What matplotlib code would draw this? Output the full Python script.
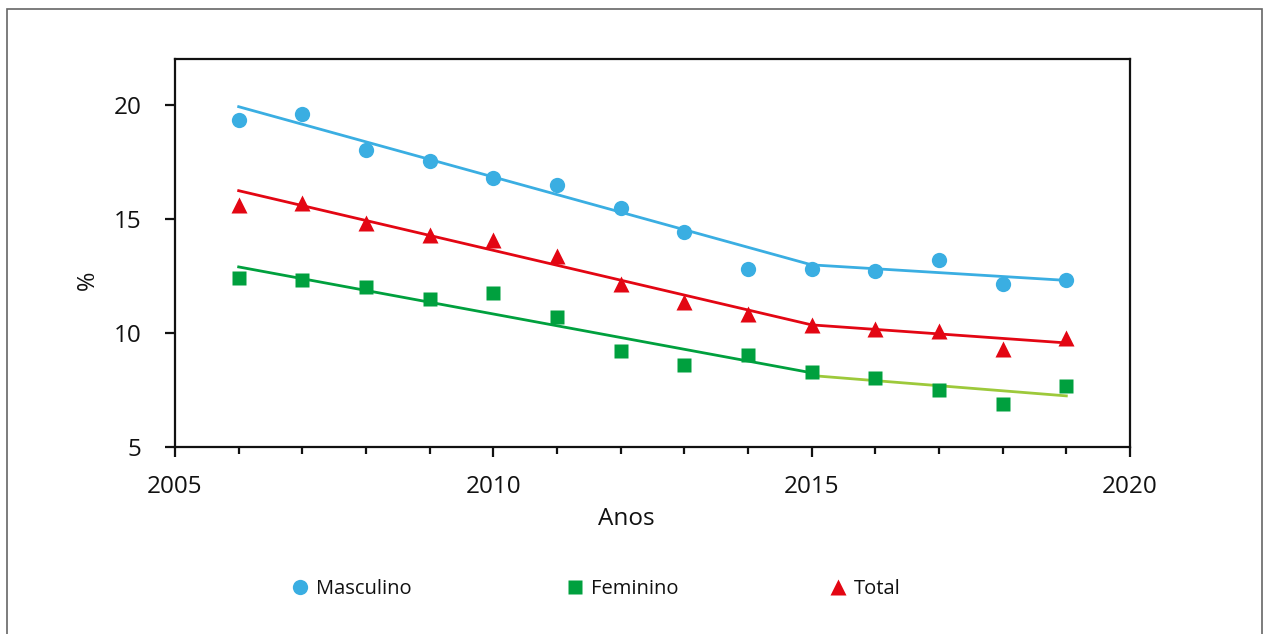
import numpy as np
import matplotlib
matplotlib.use('Agg')
import matplotlib.pyplot as plt
from matplotlib.lines import Line2D
from matplotlib.patches import Rectangle
from matplotlib.ticker import MultipleLocator

plt.rcParams['font.family'] = ['Open Sans', 'DejaVu Sans']

# Annual prevalence (%) by sex
years = [2006, 2007, 2008, 2009, 2010, 2011, 2012, 2013, 2014, 2015, 2016, 2017, 2018, 2019]
masculino = [19.34, 19.6, 18.03, 17.54, 16.8, 16.49, 15.48, 14.43, 12.8, 12.8, 12.72, 13.2, 12.15, 12.3]
feminino = [12.41, 12.32, 12.02, 11.49, 11.75, 10.7, 9.21, 8.6, 9.04, 8.29, 8.03, 7.5, 6.89, 7.68]
total = [15.61, 15.7, 14.82, 14.3, 14.08, 13.38, 12.15, 11.36, 10.83, 10.35, 10.18, 10.09, 9.3, 9.78]

# Joinpoint trend segments (year, fitted %)
trend_years_1 = [2006, 2015]
trend_years_2 = [2015, 2019]
masc_trend_1 = [19.91, 12.98]
masc_trend_2 = [12.98, 12.3]
fem_trend_1 = [12.89, 8.25]
fem_trend_2 = [8.13, 7.24]
tot_trend_1 = [16.23, 10.35]
tot_trend_2 = [10.35, 9.56]

blue = '#3aaee2'
red = '#e30613'
green = '#00a03e'
light_green = '#9dc93b'
ink = '#111111'

W, H = 1267, 634
fig = plt.figure(figsize=(W / 100, H / 100), dpi=100)
ax = fig.add_axes([175 / W, 1 - 447 / H, 955 / W, 388 / H])

# trend lines
ax.plot(trend_years_1, masc_trend_1, color=blue, lw=2)
ax.plot(trend_years_2, masc_trend_2, color=blue, lw=2)
ax.plot(trend_years_1, tot_trend_1, color=red, lw=2)
ax.plot(trend_years_2, tot_trend_2, color=red, lw=2)
ax.plot(trend_years_1, fem_trend_1, color=green, lw=2)
ax.plot(trend_years_2, fem_trend_2, color=light_green, lw=2)

# observed points
ax.plot(years, masculino, 'o', color=blue, ms=11, mec='none')
ax.plot(years, feminino, 's', color=green, ms=10.5, mec='none')
ax.plot(years, total, '^', color=red, ms=12, mec='none')

ax.set_xlim(2005, 2020)
ax.set_ylim(5, 22)
ax.set_xticks([2005, 2010, 2015, 2020])
ax.xaxis.set_minor_locator(MultipleLocator(1))
ax.set_yticks([5, 10, 15, 20])

for s in ax.spines.values():
    s.set_linewidth(1.6)
    s.set_color(ink)

ax.tick_params(axis='both', which='major', direction='out', length=7, width=1.6,
               labelsize=17.5, colors=ink)
ax.tick_params(axis='x', which='minor', direction='out', length=5, width=1.6, colors=ink)
ax.tick_params(axis='x', which='major', pad=13)
ax.tick_params(axis='y', which='major', pad=17)

fig.text(626 / W, 1 - 519 / H, 'Anos', fontsize=17.5, ha='center', va='center', color=ink)
fig.text(88 / W, 1 - 280 / H, '%', fontsize=17, rotation=90, ha='center', va='center', color=ink)

# legend entries placed one by one along the bottom
legend_fs = 14.5
em_px = legend_fs * 100 / 72
entries = [
    (300, Line2D([0], [0], marker='o', color=blue, ls='none', ms=11, mec='none', label='Masculino')),
    (575, Line2D([0], [0], marker='s', color=green, ls='none', ms=10.5, mec='none', label='Feminino')),
    (838, Line2D([0], [0], marker='^', color=red, ls='none', ms=12, mec='none', label='Total')),
]
for mx, h in entries:
    leg = fig.legend(handles=[h], loc='center left',
                     bbox_to_anchor=((mx - 0.5 * em_px) / W, 1 - 589 / H),
                     frameon=False, fontsize=legend_fs, handlelength=1.0,
                     handletextpad=0.3, borderpad=0, borderaxespad=0)
    for t in leg.get_texts():
        t.set_color(ink)

# outer frame
fig.patches.append(Rectangle((7 / W, -0.05), 1255 / W, 1 - 9 / H + 0.05,
                             transform=fig.transFigure, fill=False,
                             edgecolor='#666666', lw=1.2))

fig.savefig('out.png', dpi=100)
